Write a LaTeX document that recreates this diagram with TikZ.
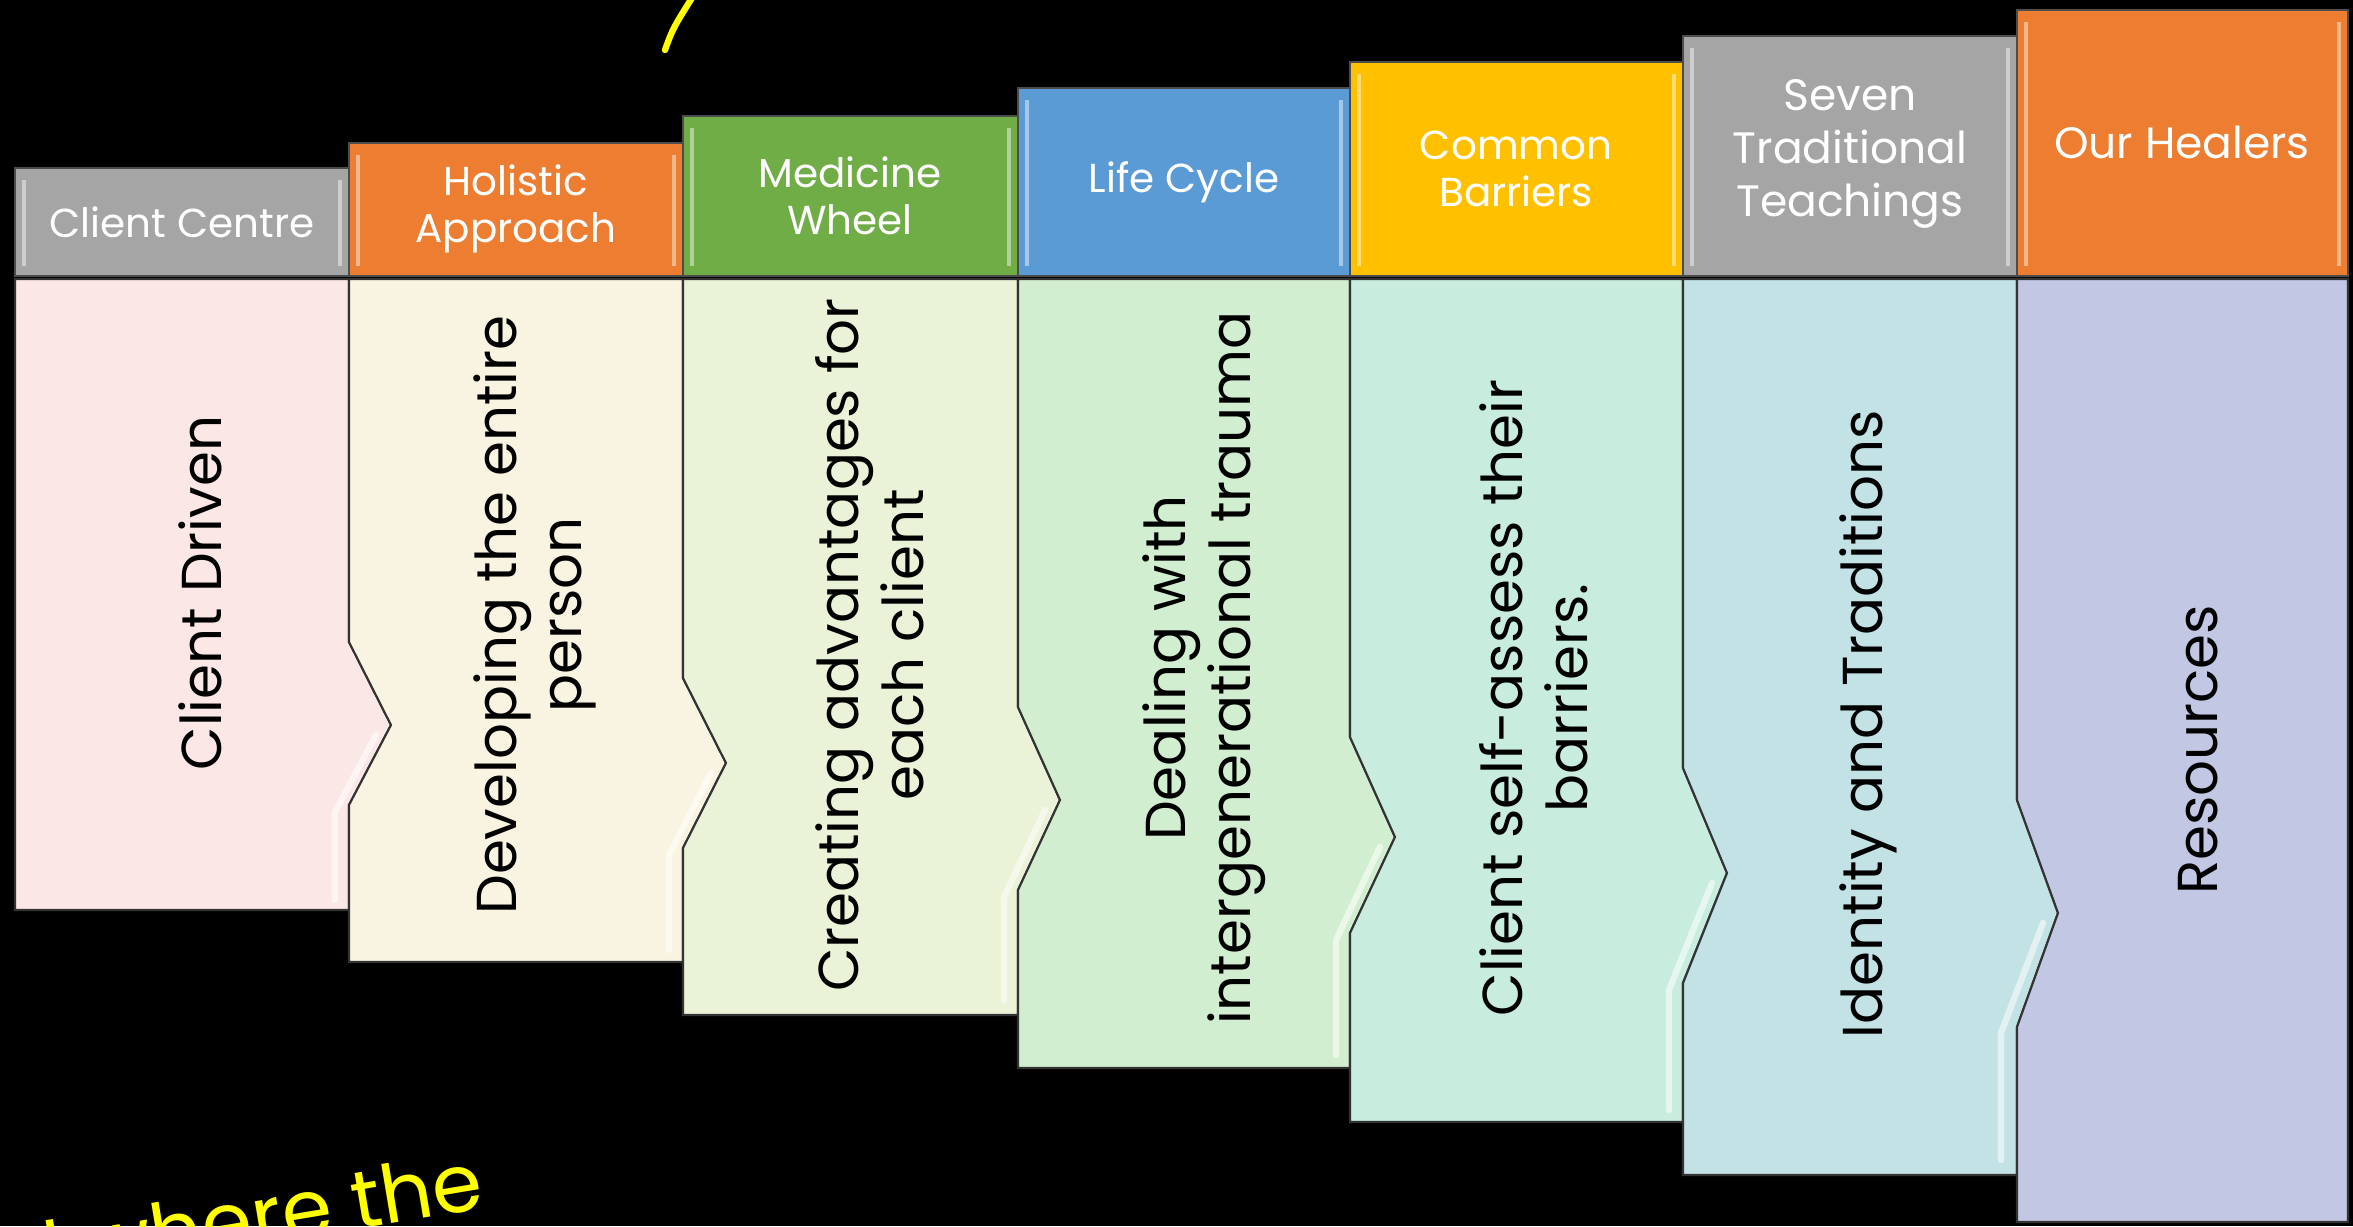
\documentclass[tikz,border=0pt]{standalone}
\usepackage{fontspec}
\setmainfont{Poppins}
\definecolor{hgray}{HTML}{A5A5A5}
\definecolor{horange}{HTML}{ED7D31}
\definecolor{hgreen}{HTML}{70AD47}
\definecolor{hblue}{HTML}{5B9BD5}
\definecolor{hgold}{HTML}{FFC000}
\definecolor{bpink}{RGB}{251,232,230}
\definecolor{bcream}{RGB}{249,244,226}
\definecolor{blime}{RGB}{234,243,215}
\definecolor{bgreen}{RGB}{210,238,208}
\definecolor{bmint}{RGB}{200,236,222}
\definecolor{bblue}{RGB}{195,226,230}
\definecolor{blav}{RGB}{194,199,228}
\definecolor{hlyellow}{RGB}{255,255,0}
\tikzset{
  header/.style={draw=black!70, line width=0.5pt},
  bodyshape/.style={draw=black!80, line width=0.6pt},
  htext/.style={text=white, font=\fontsize{11.5}{13.5}\selectfont, align=center, inner sep=0pt},
  btext/.style={text=black, font=\fontsize{16}{18.5}\selectfont, align=center, rotate=90, inner sep=0pt},
  shine/.style={draw=white, opacity=0.55, line width=1.8pt, line cap=round, line join=round},
  hedge/.style={draw=white, opacity=0.45, line width=1.2pt},
}
\begin{document}
\begin{tikzpicture}[x=0.01cm,y=-0.01cm]
\useasboundingbox (0,0) rectangle (2353,1226);
\fill[black] (0,0) rectangle (2353,1226);
\clip (0,0) rectangle (2353,1226);

% bodies
\path[bodyshape, fill=bpink] (15,279) -- (349,279) -- (349,642) -- (391,725) -- (349,805) -- (349,910) -- (15,910) -- cycle;
\path[bodyshape, fill=bcream] (349,279) -- (683,279) -- (683,678) -- (726,763) -- (683,848) -- (683,962) -- (349,962) -- (349,805) -- (391,725) -- (349,642) -- cycle;
\path[bodyshape, fill=blime] (683,279) -- (1018,279) -- (1018,707) -- (1060,800) -- (1018,890) -- (1018,1015) -- (683,1015) -- (683,848) -- (726,763) -- (683,678) -- cycle;
\path[bodyshape, fill=bgreen] (1018,279) -- (1350,279) -- (1350,737) -- (1395,837) -- (1350,933) -- (1350,1068) -- (1018,1068) -- (1018,890) -- (1060,800) -- (1018,707) -- cycle;
\path[bodyshape, fill=bmint] (1350,279) -- (1683,279) -- (1683,768) -- (1727,873) -- (1683,983) -- (1683,1122) -- (1350,1122) -- (1350,933) -- (1395,837) -- (1350,737) -- cycle;
\path[bodyshape, fill=bblue] (1683,279) -- (2017,279) -- (2017,800) -- (2058,913) -- (2017,1027) -- (2017,1175) -- (1683,1175) -- (1683,983) -- (1727,873) -- (1683,768) -- cycle;
\path[bodyshape, fill=blav] (2017,279) -- (2348,279) -- (2348,1222) -- (2017,1222) -- (2017,1027) -- (2058,913) -- (2017,800) -- cycle;

% bevel highlights on the chevrons
\draw[shine] (376,735) -- (335,812) -- (335,900);
\draw[shine] (711,773) -- (669,855) -- (669,950);
\draw[shine] (1045,810) -- (1004,897) -- (1004,1000);
\draw[shine] (1380,847) -- (1336,940) -- (1336,1055);
\draw[shine] (1712,883) -- (1669,990) -- (1669,1110);
\draw[shine] (2043,923) -- (2001,1033) -- (2001,1160);

% headers
\path[header, fill=hgray]   (15,168)  rectangle (349,276);
\path[header, fill=horange] (349,143) rectangle (683,276);
\path[header, fill=hgreen]  (683,116) rectangle (1018,276);
\path[header, fill=hblue]   (1018,88) rectangle (1350,276);
\path[header, fill=hgold]   (1350,62) rectangle (1683,276);
\path[header, fill=hgray]   (1683,36) rectangle (2017,276);
\path[header, fill=horange] (2017,10) rectangle (2348,276);
\foreach \l/\r/\t in {15/349/168, 349/683/143, 683/1018/116, 1018/1350/88, 1350/1683/62, 1683/2017/36, 2017/2348/10}{
  \draw[hedge] (\l+9,\t+12) -- (\l+9,266);
  \draw[hedge] (\r-9,\t+12) -- (\r-9,266);
}

% header texts
\node[htext] (h1) at (182,222) {Client Centre};
\node[htext] (h2) at (516,209) {Holistic\\Approach};
\node[htext] (h3) at (850,196) {Medicine\\Wheel};
\node[htext] (h4) at (1184,182) {Life Cycle};
\node[htext] (h5) at (1516,169) {Common\\Barriers};
\node[htext, font=\fontsize{12.5}{15}\selectfont] (h6) at (1850,154) {Seven\\Traditional\\Teachings};
\node[htext, font=\fontsize{12.5}{15}\selectfont] (h7) at (2182,142) {Our Healers};

% body texts
\node[btext] (b1) at (200,593) {Client Driven};
\node[btext] (b2) at (535,615) {Developing the entire\\person};
\node[btext] (b3) at (870,645) {Creating advantages for\\each client};
\node[btext] (b4) at (1204,668) {Dealing with\\intergenerational trauma};
\node[btext] (b5) at (1534,698) {Client self-assess their\\barriers.};
\node[btext] (b6) at (1868,724) {Identity and Traditions};
\node[btext] (b7) at (2198,750) {Resources};

% yellow annotations
\draw[hlyellow, line width=1.8pt, line cap=round] (665,50) .. controls (673,28) .. (697,-10);
\node[text=hlyellow, font=\fontsize{23}{26}\selectfont, anchor=base east, rotate=9.5, inner sep=0pt] (note) at (487,1208) {d where the};
\end{tikzpicture}
\end{document}
